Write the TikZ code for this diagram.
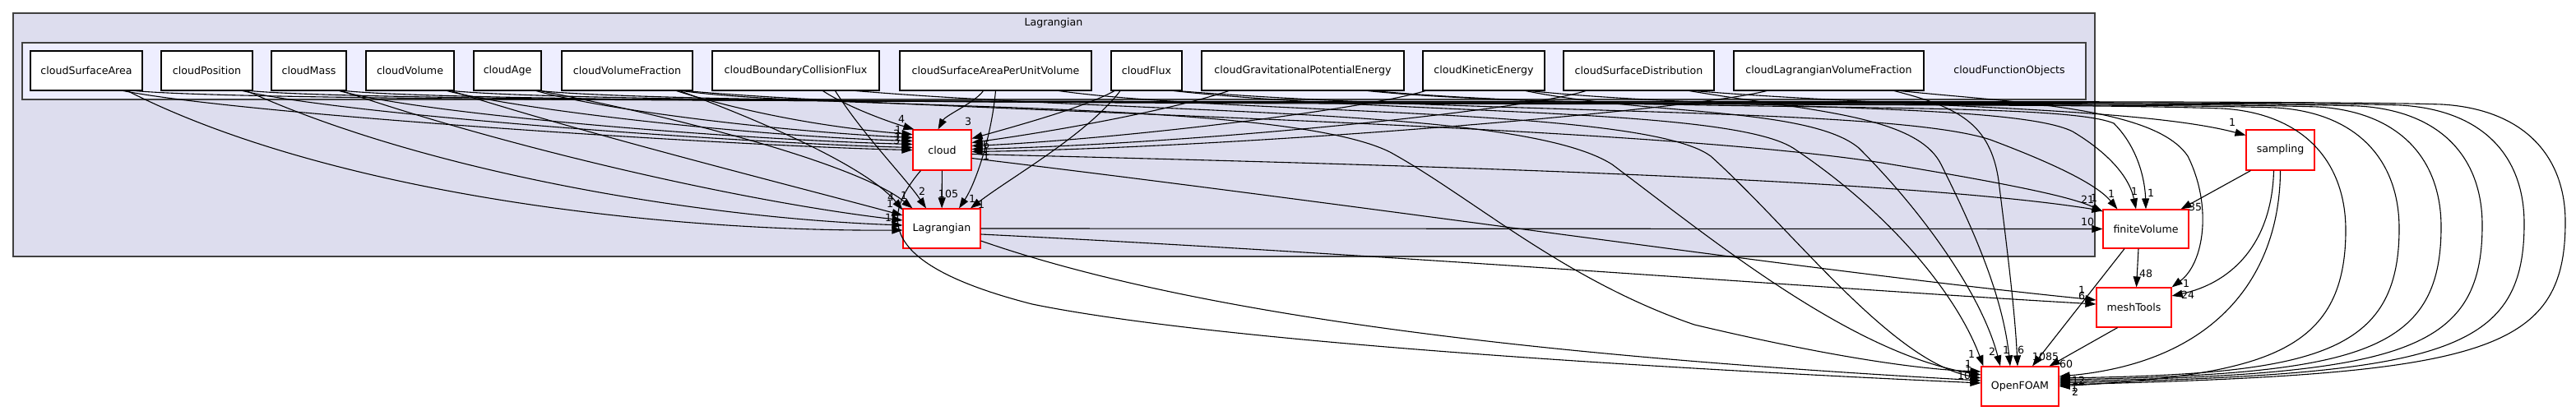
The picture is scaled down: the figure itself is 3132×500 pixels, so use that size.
\documentclass[tikz,border=0pt]{standalone}
\usepackage{fontspec}
\setmainfont{DejaVu Sans}
\usetikzlibrary{arrows.meta,calc}
\definecolor{outerfill}{HTML}{DDDDEE}
\definecolor{innerfill}{HTML}{EEEEFF}
\definecolor{clborder}{HTML}{404040}
\newcounter{labc}
\newcommand{\elab}[2]{\stepcounter{labc}\node[elabel] (lab\thelabc) at (#1) {#2};}
\begin{document}
\begin{tikzpicture}[x=1pt,y=-1pt,
  font=\fontsize{12.6}{15}\selectfont,
  dirnode/.style={draw=black,fill=white,line width=1.1pt,minimum height=48pt,inner sep=0pt},
  reddir/.style={draw=red,fill=white,line width=1.2pt,minimum height=48pt,inner sep=0pt},
  dep/.style={line width=1.1pt,-{Triangle[length=13pt,width=9pt]}},
  elabel/.style={inner sep=0pt}]
\useasboundingbox (0,0) rectangle (3132,500);
\fill[white] (0,0) rectangle (3132,500);
% clusters
\draw[clborder, fill=outerfill, line width=1.8pt] (16,16) rectangle (2547,312);
\node (lagtitle) at (1281,28) {Lagrangian};
\draw[clborder, fill=innerfill, line width=1.8pt] (27,52) rectangle (2536,121);
\node (cfotitle) at (2443,86) {cloudFunctionObjects};
% subdirectory nodes
\node[dirnode,minimum width=136pt] (sa) at (105,86) {cloudSurfaceArea};
\node[dirnode,minimum width=111pt] (pos) at (251.5,86) {cloudPosition};
\node[dirnode,minimum width=91pt] (mass) at (375.5,86) {cloudMass};
\node[dirnode,minimum width=107pt] (vol) at (498.5,86) {cloudVolume};
\node[dirnode,minimum width=82pt] (age) at (617,86) {cloudAge};
\node[dirnode,minimum width=159pt] (vf) at (762.5,86) {cloudVolumeFraction};
\node[dirnode,minimum width=203pt] (bcf) at (967.5,86) {cloudBoundaryCollisionFlux};
\node[dirnode,minimum width=233pt] (sapuv) at (1210.5,86) {cloudSurfaceAreaPerUnitVolume};
\node[dirnode,minimum width=86pt] (flux) at (1394,86) {cloudFlux};
\node[dirnode,minimum width=246pt] (gpe) at (1584,86) {cloudGravitationalPotentialEnergy};
\node[dirnode,minimum width=148pt] (ke) at (1804,86) {cloudKineticEnergy};
\node[dirnode,minimum width=183pt] (sd) at (1992.5,86) {cloudSurfaceDistribution};
\node[dirnode,minimum width=231pt] (lvf) at (2223.5,86) {cloudLagrangianVolumeFraction};
% other nodes
\node[reddir,minimum width=71pt,minimum height=49pt] (cloud) at (1145.5,182.5) {cloud};
\node[reddir,minimum width=94pt] (lag) at (1145,278) {Lagrangian};
\node[reddir,minimum width=83pt,minimum height=49pt] (samp) at (2772.5,182.5) {sampling};
\node[reddir,minimum width=104pt,minimum height=47pt] (fv) at (2609,278.5) {finiteVolume};
\node[reddir,minimum width=91pt] (mt) at (2594.5,374) {meshTools};
\node[reddir,minimum width=94pt] (of) at (2456,470) {OpenFOAM};
% ---- edges to cloud
\draw[dep] ($(sa.south)+(45,0)$) .. controls (300,140) and (900,178) .. (cloud.west);
\draw[dep] ($(pos.south)+(43.5,0)$) .. controls (420,140) and (900,174) .. ($(cloud.west)+(0,-3)$);
\draw[dep] ($(mass.south)+(37,0)$) .. controls (520,140) and (900,170) .. ($(cloud.west)+(0,-7)$);
\draw[dep] ($(vol.south)+(45,0)$) .. controls (640,135) and (920,166) .. ($(cloud.west)+(0,-11)$);
\draw[dep] ($(age.south)+(35,0)$) .. controls (740,135) and (950,160) .. ($(cloud.west)+(0,-15)$);
\draw[dep] ($(vf.south)+(60,0)$) .. controls (900,135) and (1000,155) .. ($(cloud.west)+(0,-19)$);
\draw[dep] ($(bcf.south)+(33,0)$) .. controls (1030,130) and (1080,148) .. ($(cloud.north west)+(2,0)$);
\draw[dep] ($(sapuv.south)+(-15,0)$) .. controls (1185,125) and (1150,140) .. ($(cloud.north)+(-5,0)$);
\draw[dep] ($(flux.south)+(-39,0)$) .. controls (1320,130) and (1240,152) .. ($(cloud.east)+(0,-14)$);
\draw[dep] ($(gpe.south)+(-90,0)$) .. controls (1420,135) and (1280,160) .. ($(cloud.east)+(0,-9)$);
\draw[dep] ($(ke.south)+(-71,0)$) .. controls (1650,135) and (1350,170) .. ($(cloud.east)+(0,-5)$);
\draw[dep] ($(sd.south)+(-64.5,0)$) .. controls (1850,135) and (1450,175) .. ($(cloud.east)+(0,-1)$);
\draw[dep] ($(lvf.south)+(-75.5,0)$) .. controls (2050,135) and (1500,180) .. ($(cloud.east)+(0,2)$);
\elab{1092,158}{1}\elab{1090,163}{3}\elab{1091,167}{1}\elab{1090,171}{3}
\elab{1096,145}{4}\elab{1177,148}{3}\elab{1199,176}{6}\elab{1199,185}{1}\elab{1199,190}{1}
% ---- edges to Lagrangian
\draw[dep] ($(sa.south)+(50,0)$) .. controls (400,235) and (800,282) .. ($(lag.west)+(0,2)$);
\draw[dep] ($(pos.south)+(48.5,0)$) .. controls (520,210) and (850,265) .. ($(lag.west)+(0,-4)$);
\draw[dep] ($(mass.south)+(40,0)$) .. controls (620,180) and (900,245) .. ($(lag.west)+(0,-10)$);
\draw[dep] ($(vol.south)+(50,0)$) .. controls (720,165) and (960,225) .. ($(lag.west)+(0,-16)$);
\draw[dep] ($(age.south)+(40,0)$) .. controls (860,150) and (1050,205) .. ($(lag.north west)+(12,0)$);
\draw[dep] ($(vf.south)+(64,0)$) .. controls (960,160) and (1060,210) .. ($(lag.north west)+(0,2)$);
\draw[dep] ($(bcf.south)+(48,0)$) .. controls (1050,165) and (1100,215) .. ($(lag.north)+(-19,0)$);
\draw[dep] (cloud) -- (lag);
\draw[dep] (sapuv.south) .. controls (1205,170) and (1185,225) .. ($(lag.north)+(21,0)$);
\draw[dep] ($(flux.south)+(-32,0)$) .. controls (1320,165) and (1230,215) .. ($(lag.north)+(35,0)$);
\elab{1083,240}{4}\elab{1099,238}{1}\elab{1121,233}{2}\elab{1153,236}{105}
\elab{1182,242}{1}\elab{1193,249}{1}\elab{1082,248}{1}\elab{1080,265}{1}
% ---- long right curves to OpenFOAM
\draw[dep] ($(sa.south)+(60,0)$) .. controls (400,132) and (2699,118) .. (2969,127) .. controls (3069,133) and (3119,190) .. (3119,270) .. controls (3119,430) and (3019,455) .. ($(of.east)+(0,-2)$);
\draw[dep] ($(pos.south)+(53,0)$) .. controls (540,132) and (2649,119) .. (2919,128) .. controls (3019,134) and (3069,190) .. (3069,272) .. controls (3069,430) and (2969,455) .. ($(of.east)+(0,-4)$);
\draw[dep] ($(mass.south)+(44,0)$) .. controls (650,133) and (2598,120) .. (2868,129) .. controls (2968,135) and (3018,192) .. (3018,274) .. controls (3018,430) and (2918,455) .. ($(of.east)+(0,-6)$);
\draw[dep] ($(vol.south)+(52,0)$) .. controls (780,133) and (2548,121) .. (2818,130) .. controls (2918,136) and (2968,194) .. (2968,276) .. controls (2968,430) and (2868,455) .. ($(of.east)+(0,-8)$);
\draw[dep] ($(age.south)+(40,0)$) .. controls (890,134) and (2497,122) .. (2767,131) .. controls (2867,137) and (2917,196) .. (2917,278) .. controls (2917,430) and (2817,455) .. ($(of.east)+(0,-10)$);
\draw[dep] ($(gpe.south)+(79,0)$) .. controls (1900,135) and (2432,123) .. (2702,132) .. controls (2802,138) and (2852,198) .. (2852,280) .. controls (2852,430) and (2752,455) .. (of.east);
% ---- subdirs to OpenFOAM through the cluster
\draw[dep] ($(vf.south)+(67,0)$) .. controls (1000,135) and (1560,120) .. (1690,185) .. controls (1790,240) and (1900,340) .. (2060,395) .. controls (2250,440) and (2350,450) .. ($(of.west)+(0,-18)$);
\draw[dep] ($(bcf.south)+(73,0)$) .. controls (1400,140) and (1850,130) .. (1960,200) .. controls (2080,290) and (2250,430) .. ($(of.west)+(0,-14)$);
\draw[dep] ($(sapuv.south)+(77,0)$) .. controls (1500,140) and (2000,130) .. (2080,190) .. controls (2180,280) and (2300,440) .. ($(of.west)+(0,-10)$);
\draw[dep] ($(flux.south)+(33,0)$) .. controls (1700,140) and (2100,130) .. (2180,180) .. controls (2300,260) and (2380,360) .. ($(of.north west)+(3,0)$);
\draw[dep] ($(ke.south)+(51,0)$) .. controls (2000,140) and (2200,130) .. (2260,180) .. controls (2340,260) and (2410,360) .. ($(of.north)+(-24,0)$);
\draw[dep] ($(sd.south)+(61.5,0)$) .. controls (2200,135) and (2330,140) .. (2360,200) .. controls (2400,280) and (2435,360) .. ($(of.north)+(-12,0)$);
\draw[dep] ($(lvf.south)+(79.5,0)$) .. controls (2380,130) and (2420,150) .. (2430,220) .. controls (2440,300) and (2450,380) .. ($(of.north)+(-3,0)$);
% ---- subdirs to finiteVolume, meshTools, sampling
\draw[dep] ($(vf.south)+(72,0)$) .. controls (1100,135) and (2000,150) .. (2300,200) .. controls (2450,225) and (2520,240) .. ($(fv.north west)+(0,3)$);
\draw[dep] ($(flux.south)+(38,0)$) .. controls (1800,140) and (2300,130) .. (2420,170) .. controls (2500,200) and (2550,225) .. ($(fv.north west)+(18,0)$);
\draw[dep] ($(ke.south)+(56,0)$) .. controls (2100,135) and (2450,125) .. (2520,160) .. controls (2570,190) and (2590,220) .. ($(fv.north)+(-12,0)$);
\draw[dep] ($(gpe.south)+(86,0)$) .. controls (2000,140) and (2500,120) .. (2570,150) .. controls (2600,180) and (2608,220) .. (fv.north);
\draw[dep] ($(lvf.south)+(86.5,0)$) .. controls (2450,125) and (2620,130) .. (2660,190) .. controls (2690,250) and (2680,320) .. (mt.north east);
\draw[dep] ($(sd.south)+(67.5,0)$) .. controls (2300,130) and (2600,130) .. ($(samp.west)+(0,-18)$);
% ---- cloud and Lagrangian to others
\draw[dep] ($(cloud.east)+(0,5)$) .. controls (1600,198) and (2300,215) .. ($(fv.north west)+(0,2)$);
\draw[dep] ($(cloud.east)+(0,10)$) .. controls (1700,255) and (2200,330) .. ($(mt.west)+(0,-9)$);
\draw[dep] ($(cloud.south west)+(10,0)$) .. controls (1075,260) and (1060,320) .. (1255,370) .. controls (1500,420) and (2100,452) .. ($(of.west)+(0,-4)$);
\draw[dep] (lag.east) -- (fv.west);
\draw[dep] ($(lag.east)+(0,7)$) .. controls (1700,310) and (2200,350) .. ($(mt.west)+(0,-4)$);
\draw[dep] ($(lag.east)+(0,15)$) .. controls (1500,400) and (2000,440) .. ($(of.west)+(0,-7)$);
% ---- lower nodes
\draw[dep] ($(samp.south west)+(6,0)$) -- ($(fv.north east)+(-10,0)$);
\draw[dep] ($(samp.south)+(-8,0)$) .. controls (2762,300) and (2710,345) .. ($(mt.east)+(0,-14)$);
\draw[dep] (samp.south) .. controls (2772,330) and (2700,440) .. ($(of.east)+(0,-12)$);
\draw[dep] ($(fv.south)+(-9,0)$) -- ($(mt.north)+(3,0)$);
\draw[dep] ($(fv.south)+(-26,0)$) -- ($(of.north)+(15,0)$);
\draw[dep] ($(mt.south)+(-20,0)$) -- ($(of.north east)+(-12,0)$);
% ---- labels near heads
\elab{2714,149}{1}
\elab{2538,243}{21}\elab{2546,241}{1}\elab{2567,236}{1}\elab{2595,233}{1}\elab{2615,235}{1}
\elab{2669,252}{35}\elab{2538,270}{10}
\elab{2609,333}{48}\elab{2658,345}{1}\elab{2660,359}{24}\elab{2531,353}{1}\elab{2531,360}{6}
\elab{2397,431}{1}\elab{2422,428}{2}\elab{2439,426}{1}\elab{2457,426}{6}\elab{2487,434}{1085}
\elab{2512,443}{60}\elab{2393,443}{1}\elab{2393,449}{1}\elab{2388,457}{10}
\elab{2527,463}{12}\elab{2522,472}{1}\elab{2523,477}{2}
\end{tikzpicture}
\end{document}
